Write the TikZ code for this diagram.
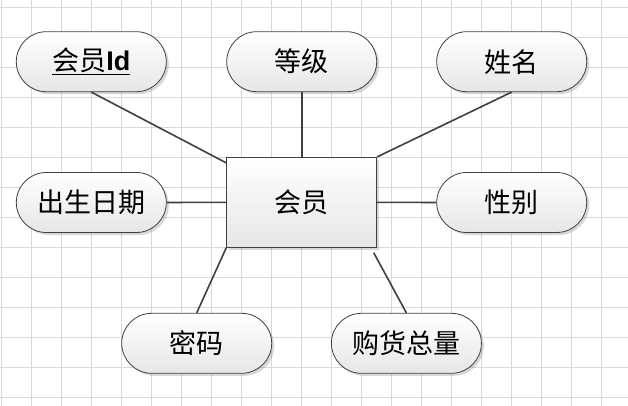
\documentclass[tikz,border=0pt]{standalone}
\usepackage{fontspec}
\newfontfamily\cjk{Noto Sans CJK SC}
\newfontfamily\latinbold{Liberation Sans}
\usetikzlibrary{shadows}
\definecolor{gridgray}{HTML}{D9D9D9}
\definecolor{inkgray}{HTML}{404040}
\definecolor{shadegray}{HTML}{E6E6E6}
\tikzset{
  attr/.style={draw=inkgray, line width=0.8pt, rectangle, rounded corners=30pt,
    minimum width=150pt, minimum height=60pt, inner sep=0pt,
    top color=white, bottom color=shadegray,
    drop shadow={shadow xshift=2.5pt, shadow yshift=-2.5pt, opacity=0.25, fill=black!60},
    font=\cjk\fontsize{27}{27}\selectfont},
  entity/.style={draw=inkgray, line width=0.8pt, rectangle,
    minimum width=150pt, minimum height=90pt, inner sep=0pt,
    top color=white, bottom color=shadegray,
    drop shadow={shadow xshift=2.5pt, shadow yshift=-2.5pt, opacity=0.25, fill=black!60},
    font=\cjk\fontsize{27}{27}\selectfont},
  link/.style={draw=inkgray, line width=1.6pt}
}
\begin{document}
\begin{tikzpicture}[x=1pt, y=-1pt]
  \useasboundingbox (0,0) rectangle (628,406);
  \fill[white] (0,0) rectangle (628,406);
  % background grid
  \foreach \gx in {1.7,31.7,...,630} \draw[gridgray, line width=0.9pt] (\gx,0) -- (\gx,406);
  \foreach \gy in {7.3,37.3,...,406} \draw[gridgray, line width=0.9pt] (0,\gy) -- (628,\gy);

  % entity and attributes
  \node[entity] (m) at (301.7,202.3) {会员};
  \node[attr] (id) at (91.3,61.7) {\underline{会员{\latinbold\bfseries Id}}};
  \node[attr] (grade) at (301.7,61.7) {等级};
  \node[attr] (name) at (511.7,61.7) {姓名};
  \node[attr] (birth) at (91.3,202.5) {出生日期};
  \node[attr] (sex) at (511.7,202.5) {性别};
  \node[attr] (pwd) at (196.7,343.3) {密码};
  \node[attr] (buy) at (406.4,343.3) {购货总量};

  % connectors
  \draw[link] (id.south) -- ([yshift=-6pt]m.north west);
  \draw[link] (grade.south) -- (m.north);
  \draw[link] (name.south) -- (m.north east);
  \draw[link] (birth.east) -- (m.west);
  \draw[link] (sex.west) -- (m.east);
  \draw[link] (m.south west) -- (pwd.north);
  \draw[link] ([xshift=-3.4pt,yshift=-5pt]m.south east) -- (buy.north);
\end{tikzpicture}
\end{document}
